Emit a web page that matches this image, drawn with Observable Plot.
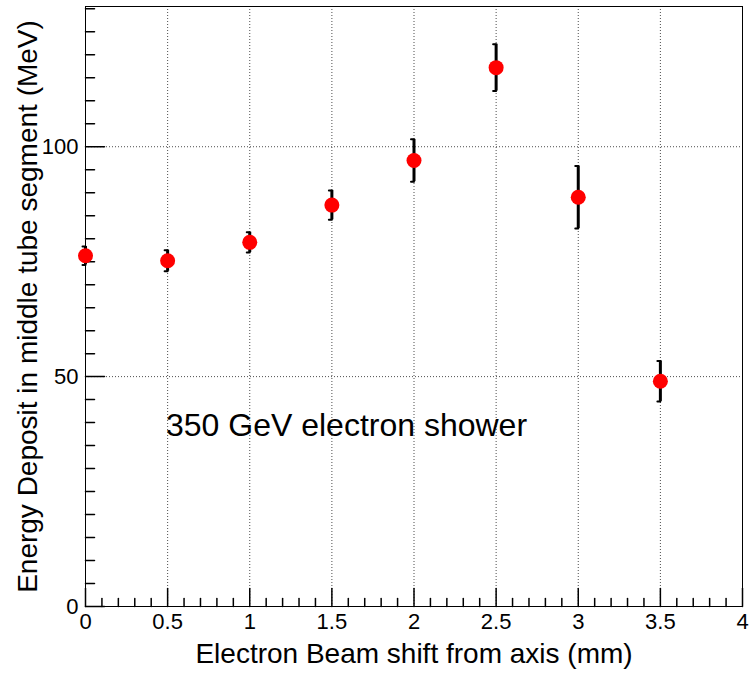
<!DOCTYPE html>
<html><head><meta charset="utf-8">
<script src="https://cdn.jsdelivr.net/npm/d3@7"></script>
<script src="https://cdn.jsdelivr.net/npm/@observablehq/plot@0.6"></script>
<style>body{margin:0;background:#fff}</style>
</head><body><div id="chart"></div>
<script>
const shifts = [0, 0.5, 1, 1.5, 2, 2.5, 3, 3.5];
const energy = [76.3, 75.2, 79.2, 87.3, 97.0, 117.2, 89.0, 49.0];
const errors = [2.0, 2.3, 2.2, 3.2, 4.6, 5.1, 6.8, 4.4];
const xMajor = [0, 0.5, 1, 1.5, 2, 2.5, 3, 3.5, 4];
const yMajor = [0, 50, 100];
const xGrid = [0.5, 1, 1.5, 2, 2.5, 3, 3.5];
const yGrid = [50, 100];
const xMinor = d3.range(0, 41).map(i => i / 10).filter(v => Math.abs(v * 2 - Math.round(v * 2)) > 1e-6);
const yMinor = d3.range(0, 27).map(i => i * 5).filter(v => v % 50 !== 0);
const xTitle = ["Electron Beam shift from axis (mm)"];
const yTitle = ["Energy Deposit in middle tube segment (MeV)"];
const notes = [{x: 0.49, y: 39.3, text: "350 GeV electron shower"}];

const data = shifts.map((x, i) => ({x, y: energy[i], e: errors[i], lo: energy[i] - errors[i], hi: energy[i] + errors[i]}));
const line = {draw(ctx, l) { ctx.moveTo(0, 0); ctx.lineTo(0, -l); }};
const font = "'Liberation Sans', Arial, Helvetica, sans-serif";

const plot = Plot.plot({
  width: 749, height: 673,
  marginLeft: 85, marginRight: 7, marginTop: 6, marginBottom: 67,
  style: {fontFamily: font, fontSize: "22px", background: "white", color: "black"},
  x: {domain: [0, 4], ticks: xMajor, tickSize: 0, tickPadding: 7, tickFormat: d => String(d), label: null},
  y: {domain: [0, 130.5], ticks: yMajor, tickSize: 0, tickPadding: 7, tickFormat: d => String(d), label: null},
  marks: [
    Plot.ruleX(xGrid, {x: d => d, stroke: "black", strokeOpacity: 0.7, strokeDasharray: "1,2"}),
    Plot.ruleY(yGrid, {y: d => d, stroke: "black", strokeOpacity: 0.7, strokeDasharray: "1,2"}),
    Plot.vector(xMinor, {x: d => d, frameAnchor: "bottom", length: 8, anchor: "start", shape: line, stroke: "black"}),
    Plot.vector(xMajor, {x: d => d, frameAnchor: "bottom", length: 18, anchor: "start", shape: line, stroke: "black"}),
    Plot.vector(yMinor, {y: d => d, frameAnchor: "left", length: 9, rotate: 90, anchor: "start", shape: line, stroke: "black"}),
    Plot.vector(yMajor, {y: d => d, frameAnchor: "left", length: 19, rotate: 90, anchor: "start", shape: line, stroke: "black"}),
    Plot.frame({stroke: "black", strokeWidth: 1}),
    Plot.ruleX(data, {x: "x", y1: "lo", y2: "hi", stroke: "black", strokeWidth: 3}),
    Plot.vector(data, {x: "x", y: "hi", length: 3, rotate: 90, anchor: "end", shape: line, stroke: "black", strokeWidth: 2}),
    Plot.vector(data, {x: "x", y: "lo", length: 3, rotate: 90, anchor: "end", shape: line, stroke: "black", strokeWidth: 2}),
    Plot.dot(data, {x: "x", y: "y", r: 7.5, fill: "#ff0000", stroke: "none"}),
    Plot.text(notes, {x: "x", y: "y", text: "text", textAnchor: "start", lineAnchor: "middle", fontSize: 32, fill: "black"}),
    Plot.text(xTitle, {text: d => d, frameAnchor: "bottom", textAnchor: "middle", lineAnchor: "middle", dy: 48, fontSize: 28, fill: "black"}),
    Plot.text(yTitle, {text: d => d, frameAnchor: "left", textAnchor: "middle", lineAnchor: "middle", dx: -57, rotate: -90, fontSize: 28, fill: "black"})
  ]
});
document.getElementById("chart").appendChild(plot);
</script>
</body></html>
